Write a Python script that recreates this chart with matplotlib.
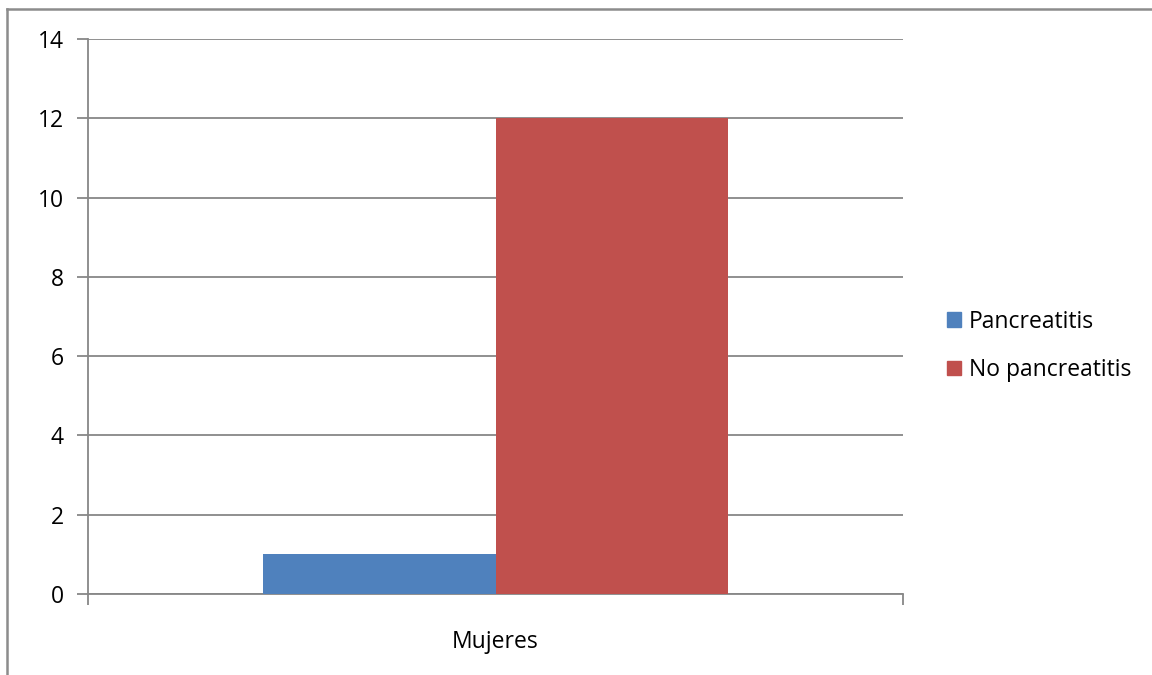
import matplotlib.pyplot as plt
from matplotlib.lines import Line2D
import numpy as np

plt.rcParams['font.family'] = ['Open Sans', 'DejaVu Sans']

# Data
CATEGORIES = ['Mujeres']
SERIES = ['Pancreatitis', 'No pancreatitis']
VALUES = [[1], [12]]
COLORS = ['#4F81BD', '#C0504D']
Y_TICKS = [0, 2, 4, 6, 8, 10, 12, 14]

GRID = '#878787'
FS = 16.5

fig = plt.figure(figsize=(11.52, 6.75), dpi=100)
ax = fig.add_axes([88 / 1152, 1 - 594 / 675, 815 / 1152, 555 / 675])

x = np.arange(len(CATEGORIES))
width = 0.2853
for i, (name, vals) in enumerate(zip(SERIES, VALUES)):
    offset = (i - 0.5) * width
    ax.bar(x + offset, vals, width, color=COLORS[i], label=name, zorder=3)

ax.set_xlim(-0.5, len(CATEGORIES) - 0.5)
ax.set_ylim(0, 14)
ax.set_yticks(Y_TICKS)
ax.set_yticklabels([str(t) for t in Y_TICKS], fontsize=FS)
ax.yaxis.grid(True, color=GRID, linewidth=1.3, zorder=0)

# category label without tick, boundary ticks at category edges
ax.set_xticks(x)
ax.set_xticklabels(CATEGORIES, fontsize=FS)
ax.set_xticks(np.arange(len(CATEGORIES) + 1) - 0.5, minor=True)
ax.tick_params(axis='x', which='major', length=0, pad=26)
ax.tick_params(axis='x', which='minor', length=8, width=1.3, color=GRID)
ax.tick_params(axis='y', length=8, width=1.3, color=GRID, pad=9.5)

for side in ['top', 'right']:
    ax.spines[side].set_visible(False)
for side in ['left', 'bottom']:
    ax.spines[side].set_color(GRID)
    ax.spines[side].set_linewidth(1.3)

handles = [plt.Rectangle((0, 0), 1, 1, color=c) for c in COLORS]
fig.legend(handles, SERIES, loc='center left', bbox_to_anchor=(926 / 1152, 1 - 346 / 675),
           frameon=False, fontsize=FS, handlelength=0.62, handleheight=0.62,
           handletextpad=0.35, labelspacing=1.05)

# outer frame (left and top edges)
fig.add_artist(Line2D([7 / 1152, 7 / 1152], [0, 1 - 9 / 675], color='#8c8c8c', linewidth=1.8,
                      transform=fig.transFigure))
fig.add_artist(Line2D([7 / 1152, 1], [1 - 9 / 675, 1 - 9 / 675], color='#8c8c8c', linewidth=1.8,
                      transform=fig.transFigure))

plt.savefig('out.png', dpi=100)
